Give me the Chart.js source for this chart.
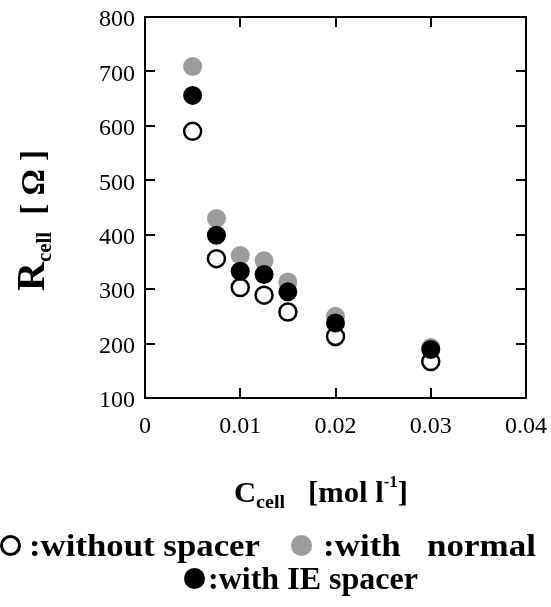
<!DOCTYPE html>
<html>
<head>
<meta charset="utf-8">
<script src="https://cdn.jsdelivr.net/npm/chart.js@4.4.1/dist/chart.umd.min.js"></script>
<style>
    html, body { margin: 0; padding: 0; background: #ffffff; }
    #wrap { position: relative; width: 551px; height: 607px; font-family: 'Liberation Serif', 'Times New Roman', serif; color: #000; }
    #chart { position: absolute; left: 0; top: 0; }
    .txt { position: absolute; white-space: nowrap; line-height: 1; font-weight: bold; }
    .dot { position: absolute; border-radius: 50%; box-sizing: border-box; }
</style>
</head>
<body>
<div id="wrap">
    <canvas id="chart" width="551" height="607"></canvas>

    <!-- y axis title, rotated -->
    <div class="txt" id="ytitle" style="left:11px; top:291px; font-size:40px; transform-origin:0 0; transform:rotate(-90deg);">R<span style="font-size:21px; position:relative; top:7px;">cell</span><span style="font-size:33px; margin-left:17px;">[&nbsp;Ω&nbsp;]</span></div>

    <!-- x axis title -->
    <div class="txt fit" data-w="174" style="left:234px; top:478px; font-size:29px;">C<span style="font-size:19px; position:relative; top:6px;">cell</span>&nbsp;&nbsp;&nbsp;[mol l<span style="font-size:16px; position:relative; top:-15px;">-1</span>]</div>

    <!-- legend -->
    <div class="dot" style="left:0px; top:535px; width:21px; height:21px; border:3px solid #000; background:#fff;"></div>
    <div class="txt fit" data-w="231" style="left:29px; top:529px; font-size:32px;">:without spacer</div>
    <div class="dot" style="left:291px; top:535px; width:21px; height:21px; background:#9c9c9c;"></div>
    <div class="txt fit" data-w="213" style="left:323px; top:529px; font-size:32px;">:with&nbsp;&nbsp;&nbsp;normal</div>
    <div class="dot" style="left:184px; top:568px; width:21px; height:21px; background:#000;"></div>
    <div class="txt fit" data-w="210" style="left:208px; top:562px; font-size:32px;">:with IE spacer</div>
</div>

<script>
// concentration C_cell [mol l-1]
const cellConc = [0.005, 0.0075, 0.01, 0.0125, 0.015, 0.02, 0.03];

// R_cell [ohm] per spacer type
const withoutSpacer = [590, 356, 303, 289, 258, 213, 167];
const withNormal = [709, 430, 362, 352, 313, 250, 193];
const withIE = [656, 399, 333, 327, 295, 238, 189];

const xTickLabels = ['0', '0.01', '0.02', '0.03', '0.04'];
const yTickLabels = ['100', '200', '300', '400', '500', '600', '700', '800'];

const toPoints = (ys) => cellConc.map((x, i) => ({ x: x, y: ys[i] }));

// text in the original is a bit wider, stretch to match
document.querySelectorAll('.fit').forEach(el => {
    const w = el.getBoundingClientRect().width;
    el.style.transformOrigin = '0 0';
    el.style.transform = 'scaleX(' + (parseFloat(el.dataset.w) / w) + ')';
});

// box frame + inward tick marks on all four sides
const frameTicks = {
    id: 'frameTicks',
    afterDraw(chart) {
        const ctx = chart.ctx;
        const a = chart.chartArea;
        const xs = chart.scales.x;
        const ys = chart.scales.y;
        const len = 10;
        ctx.save();
        ctx.strokeStyle = '#000';
        ctx.lineWidth = 2;
        ctx.strokeRect(a.left, a.top, a.right - a.left, a.bottom - a.top);
        ctx.beginPath();
        xs.ticks.forEach((t, i) => {
            if (i === 0 || i === xs.ticks.length - 1) return;
            const px = Math.round(xs.getPixelForValue(t.value));
            ctx.moveTo(px, a.bottom);
            ctx.lineTo(px, a.bottom - len);
            ctx.moveTo(px, a.top);
            ctx.lineTo(px, a.top + len);
        });
        ys.ticks.forEach((t, i) => {
            if (i === 0 || i === ys.ticks.length - 1) return;
            const py = Math.round(ys.getPixelForValue(t.value));
            ctx.moveTo(a.left, py);
            ctx.lineTo(a.left + len, py);
            ctx.moveTo(a.right, py);
            ctx.lineTo(a.right - len, py);
        });
        ctx.stroke();
        ctx.restore();
    }
};

new Chart(document.getElementById('chart'), {
    type: 'scatter',
    data: {
        datasets: [
            {
                label: 'with IE spacer',
                data: toPoints(withIE),
                backgroundColor: '#000000',
                borderWidth: 0,
                pointRadius: 9.5,
                order: 0
            },
            {
                label: 'with normal',
                data: toPoints(withNormal),
                backgroundColor: '#9c9c9c',
                borderWidth: 0,
                pointRadius: 9.5,
                order: 1
            },
            {
                label: 'without spacer',
                data: toPoints(withoutSpacer),
                backgroundColor: '#ffffff',
                borderColor: '#000000',
                borderWidth: 2.5,
                pointRadius: 8.5,
                order: 2
            }
        ]
    },
    options: {
        responsive: false,
        devicePixelRatio: 1,
        animation: false,
        layout: {
            padding: { top: 17, right: 25, left: 0, bottom: 0 }
        },
        plugins: {
            legend: { display: false },
            tooltip: { enabled: false }
        },
        scales: {
            x: {
                type: 'linear',
                min: 0,
                max: 0.04,
                afterFit: (s) => {
                    s.height = 209;
                    s.paddingLeft = 0;
                    s.paddingRight = 0;
                },
                grid: { display: false, drawTicks: false },
                border: { display: false },
                ticks: {
                    stepSize: 0.01,
                    padding: 14,
                    color: '#000',
                    maxRotation: 0,
                    font: { family: 'Liberation Serif', size: 24 },
                    callback: (v, i) => xTickLabels[i]
                }
            },
            y: {
                type: 'linear',
                min: 100,
                max: 800,
                afterFit: (s) => {
                    s.width = 145;
                    s.paddingTop = 0;
                    s.paddingBottom = 0;
                },
                grid: { display: false, drawTicks: false },
                border: { display: false },
                ticks: {
                    stepSize: 100,
                    padding: 10,
                    labelOffset: 3,
                    color: '#000',
                    font: { family: 'Liberation Serif', size: 24 },
                    callback: (v, i) => yTickLabels[i]
                }
            }
        }
    },
    plugins: [frameTicks]
});
</script>
</body>
</html>
